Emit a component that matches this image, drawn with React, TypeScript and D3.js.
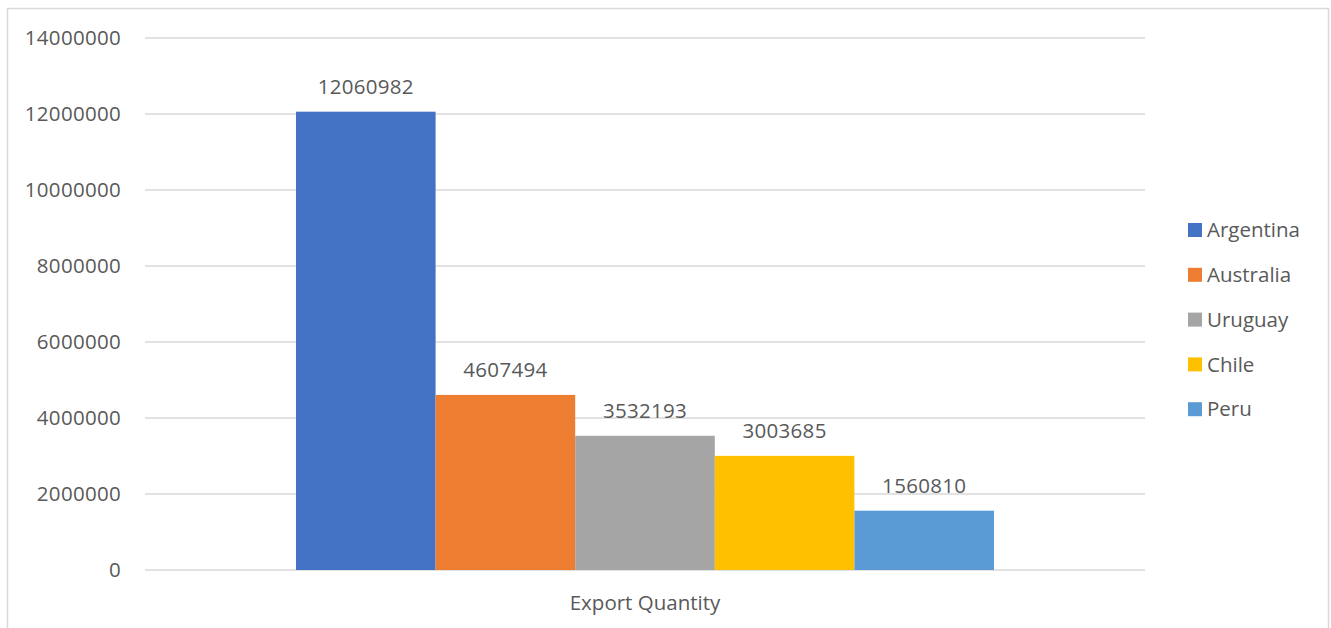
import React from "react";
import * as d3 from "d3";

const categories = ["Export Quantity"];
const seriesNames = ["Argentina", "Australia", "Uruguay", "Chile", "Peru"];
const seriesValues = [12060982, 4607494, 3532193, 3003685, 1560810];
const seriesColors = ["#4472C4", "#ED7D31", "#A5A5A5", "#FFC000", "#5B9BD5"];
const yTicks = [0, 2000000, 4000000, 6000000, 8000000, 10000000, 12000000, 14000000];

const W = 1331;
const H = 628;
const plot = { left: 145, right: 1145, top: 38, bottom: 570 };
const font = "'Open Sans', 'Noto Sans', sans-serif";
const textColor = "#595959";
const fs = 20.5;

export default function App() {
  const y = d3.scaleLinear().domain([0, 14000000]).range([plot.bottom, plot.top]);
  const xCat = d3.scaleBand().domain(categories).range([plot.left, plot.right]).paddingInner(0).paddingOuter(0.2163);
  const xSeries = d3.scaleBand().domain(seriesNames).range([0, xCat.bandwidth()]).padding(0);

  return (
    <svg width={W} height={H} style={{ position: "absolute", left: 0, top: 0, background: "#fff" }}>
      <rect x={7.5} y={8.5} width={1321} height={640} fill="#fff" stroke="#D9D9D9" strokeWidth={1.5} />
      {yTicks.map((t) => (
        <g key={t}>
          <line x1={plot.left} x2={plot.right} y1={y(t)} y2={y(t)} stroke="#D9D9D9" strokeWidth={1.5} />
          <text x={121} y={y(t)} dy="0.35em" textAnchor="end" fontFamily={font} fontSize={fs} letterSpacing={0.3} fill={textColor}>
            {t}
          </text>
        </g>
      ))}
      {categories.map((c) => (
        <g key={c} transform={`translate(${xCat(c)},0)`}>
          {seriesNames.map((s, i) => {
            const x0 = xSeries(s)!;
            const v = seriesValues[i];
            return (
              <g key={s}>
                <rect x={x0} y={y(v)} width={xSeries.bandwidth()} height={plot.bottom - y(v)} fill={seriesColors[i]} />
                <text x={x0 + xSeries.bandwidth() / 2} y={y(v) - 18} textAnchor="middle" fontFamily={font} fontSize={fs} letterSpacing={0.3} fill={textColor}>
                  {v}
                </text>
              </g>
            );
          })}
          <text x={xCat.bandwidth() / 2} y={610} textAnchor="middle" fontFamily={font} fontSize={fs} fill={textColor}>
            {c}
          </text>
        </g>
      ))}
      {seriesNames.map((s, i) => (
        <g key={s} transform={`translate(1188,${230 + i * 44.8})`}>
          <rect x={0} y={-7} width={14} height={14} fill={seriesColors[i]} />
          <text x={19} y={0} dy="0.35em" fontFamily={font} fontSize={fs} fill={textColor}>
            {s}
          </text>
        </g>
      ))}
    </svg>
  );
}
